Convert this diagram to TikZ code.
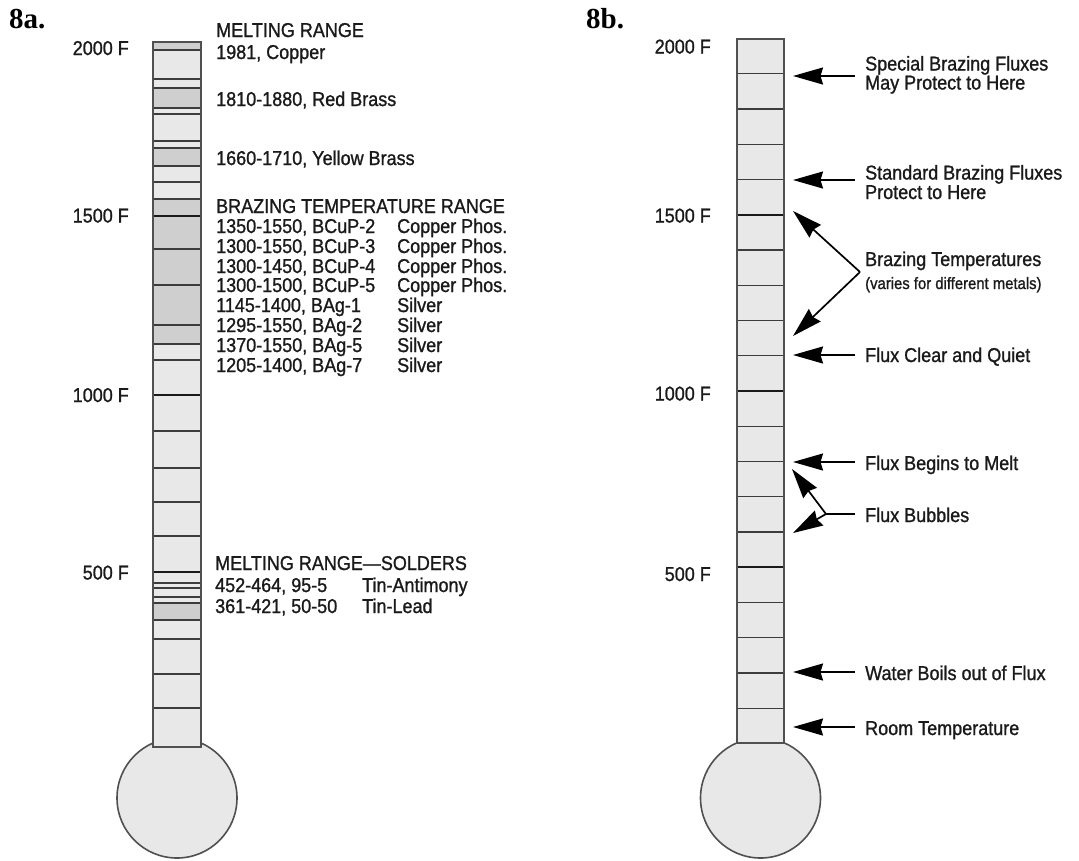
\documentclass[tikz,border=0pt]{standalone}
\usepackage{fontspec}
\setmainfont{Liberation Sans}[FakeStretch=0.9,FakeBold=1.1]
\newfontfamily\labelserif{Liberation Serif}
\usetikzlibrary{arrows.meta}

\definecolor{tubefill}{HTML}{E8E8E8}
\definecolor{bandfill}{HTML}{CFCFCF}
\definecolor{ink}{HTML}{1A1A1A}
\definecolor{edge}{HTML}{505050}

\tikzset{
  txt/.style={anchor=base west, inner sep=0pt, font=\fontsize{20}{20}\selectfont, text=ink},
  smalltxt/.style={anchor=base west, inner sep=0pt, font=\fontsize{16.5}{16.5}\selectfont, text=ink},
  scalelab/.style={anchor=base east, inner sep=0pt, font=\fontsize{20}{20}\selectfont, text=ink},
  figlab/.style={anchor=base west, inner sep=0pt, font=\labelserif\bfseries\fontsize{29}{29}\selectfont},
  tick/.style={draw=ink!85, line width=1.3pt},
  bigtick/.style={draw=ink, line width=2.2pt},
  tubeedge/.style={draw=edge, line width=1.6pt},
  arr/.style={draw=black, line width=1.7pt, -{Stealth[length=30pt,width=17pt,inset=2.5pt]}},
  plainline/.style={draw=black, line width=1.7pt},
}

\begin{document}
\begin{tikzpicture}[x=1pt,y=-1pt]
\useasboundingbox (0,0) rectangle (1079,860);

% ---------- figure labels ----------
\node[figlab] (la) at (9,28) {8a.};
\node[figlab] (lb) at (586,28) {8b.};

% ---------- left thermometer ----------
\fill[tubefill, tubeedge] (177,798) circle[radius=60pt];
\fill[tubefill] (153,42) rectangle (201,747);
\foreach \a/\b in {42/50, 88/108, 148/166, 199/344, 603/620}
  \fill[bandfill] (153,\a) rectangle (201,\b);
\foreach \y in {50,79,88,108,114,141,148,166,182,199,249,285,325,344,360,431,468,502,536,583,588,597,603,620,639,674,708}
  \draw[tick] (153,\y) -- (201,\y);
\foreach \y in {216,395,572}
  \draw[bigtick] (153,\y) -- (201,\y);
\draw[tubeedge] (153,42) rectangle (201,747);

% scale labels left
\node[scalelab] (a2000) at (129,55) {2000 F};
\node[scalelab] (a1500) at (129,222.5) {1500 F};
\node[scalelab] (a1000) at (129,402) {1000 F};
\node[scalelab] (a500)  at (129,579.5) {500 F};

% text left
\node[txt] (melt) at (216,37) {MELTING RANGE};
\node[txt] (cu)   at (216,59) {1981, Copper};
\node[txt] (rb)   at (216,106) {1810-1880, Red Brass};
\node[txt] (yb)   at (216,165) {1660-1710, Yellow Brass};
\node[txt] (braz) at (216,213) {BRAZING TEMPERATURE RANGE};
\node[txt] (r1a) at (216,233) {1350-1550, BCuP-2};
\node[txt] (r1b) at (397,233) {Copper Phos.};
\node[txt] (r2a) at (216,253) {1300-1550, BCuP-3};
\node[txt] (r2b) at (397,253) {Copper Phos.};
\node[txt] (r3a) at (216,273) {1300-1450, BCuP-4};
\node[txt] (r3b) at (397,273) {Copper Phos.};
\node[txt] (r4a) at (216,292) {1300-1500, BCuP-5};
\node[txt] (r4b) at (397,292) {Copper Phos.};
\node[txt] (r5a) at (216,312) {1145-1400, BAg-1};
\node[txt] (r5b) at (397,312) {Silver};
\node[txt] (r6a) at (216,332) {1295-1550, BAg-2};
\node[txt] (r6b) at (397,332) {Silver};
\node[txt] (r7a) at (216,352) {1370-1550, BAg-5};
\node[txt] (r7b) at (397,352) {Silver};
\node[txt] (r8a) at (216,372) {1205-1400, BAg-7};
\node[txt] (r8b) at (397,372) {Silver};
\node[txt] (sold) at (215,570) {MELTING RANGE---SOLDERS};
\node[txt] (s1a) at (215,592) {452-464, 95-5};
\node[txt] (s1b) at (362,592) {Tin-Antimony};
\node[txt] (s2a) at (215,613) {361-421, 50-50};
\node[txt] (s2b) at (362,613) {Tin-Lead};

% ---------- right thermometer ----------
\fill[tubefill, tubeedge] (760.5,798) circle[radius=60pt];
\fill[tubefill] (737,39) rectangle (784,743);
\foreach \t in {100,200,300,400,600,700,800,900,1100,1200,1300,1400,1600,1700,1800,1900}
  \draw[tick] (737,{743.5-0.3525*\t}) -- (784,{743.5-0.3525*\t});
\foreach \t in {500,1000,1500}
  \draw[bigtick] (737,{743.5-0.3525*\t}) -- (784,{743.5-0.3525*\t});
\draw[tubeedge] (737,39) rectangle (784,743);

% scale labels right
\node[scalelab] (b2000) at (711,53.5) {2000 F};
\node[scalelab] (b1500) at (711,222.5) {1500 F};
\node[scalelab] (b1000) at (711,400.5) {1000 F};
\node[scalelab] (b500)  at (711,581) {500 F};

% right texts
\node[txt] (sp1) at (865,70.5) {Special Brazing Fluxes};
\node[txt] (sp2) at (865,89.5) {May Protect to Here};
\node[txt] (st1) at (865,179.5) {Standard Brazing Fluxes};
\node[txt] (st2) at (865,199) {Protect to Here};
\node[txt] (bt1) at (865,266) {Brazing Temperatures};
\node[smalltxt] (bt2) at (865,289) {(varies for different metals)};
\node[txt] (fcq) at (865,362) {Flux Clear and Quiet};
\node[txt] (fbm) at (865,470) {Flux Begins to Melt};
\node[txt] (fbb) at (865,522) {Flux Bubbles};
\node[txt] (wb)  at (865,680) {Water Boils out of Flux};
\node[txt] (rt)  at (865,735) {Room Temperature};

% arrow coordinates
\coordinate (sp0) at (855,76);   \coordinate (spT) at (793,76);
\coordinate (st0) at (855,180);  \coordinate (stT) at (793,180);
\coordinate (bj)  at (860,272);  \coordinate (bT1) at (793,211); \coordinate (bT2) at (793,336);
\coordinate (fc0) at (855,355);  \coordinate (fcT) at (793,355);
\coordinate (fm0) at (855,462);  \coordinate (fmT) at (793,462);
\coordinate (fb0) at (855,514);  \coordinate (fbj) at (826,514);
\coordinate (fbT1) at (792,469); \coordinate (fbT2) at (793,533);
\coordinate (wb0) at (855,672);  \coordinate (wbT) at (793,672);
\coordinate (rt0) at (855,727);  \coordinate (rtT) at (793,727);

\draw[arr] (sp0) -- (spT);
\draw[arr] (st0) -- (stT);
\draw[arr] (bj) -- (bT1);
\draw[arr] (bj) -- (bT2);
\draw[arr] (fc0) -- (fcT);
\draw[arr] (fm0) -- (fmT);
\draw[plainline] (fb0) -- (fbj);
\draw[arr] (fbj) -- (fbT1);
\draw[arr] (fbj) -- (fbT2);
\draw[arr] (wb0) -- (wbT);
\draw[arr] (rt0) -- (rtT);
\end{tikzpicture}
\end{document}
